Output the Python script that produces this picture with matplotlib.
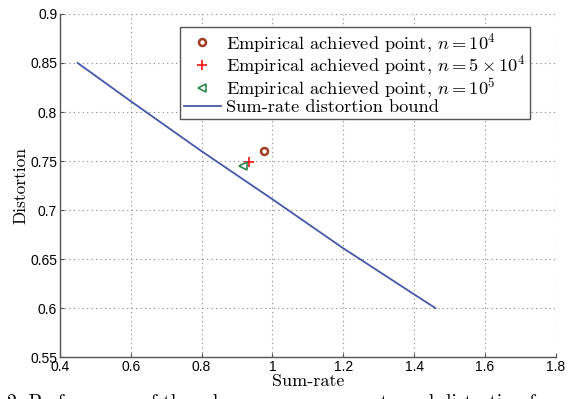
import numpy as np
import matplotlib
matplotlib.use("Agg")
import matplotlib.pyplot as plt

plt.rcParams['mathtext.fontset'] = 'cm'

# bound curve
bound_rate = [0.45, 0.6, 0.8, 1.0, 1.2, 1.4, 1.46]
bound_dist = [0.85, 0.811, 0.760, 0.711, 0.661, 0.614, 0.60]

# empirical points
pt_1e4 = (0.975, 0.760)
pt_5e4 = (0.935, 0.749)
pt_1e5 = (0.918, 0.745)

xticks = [0.4, 0.6, 0.8, 1.0, 1.2, 1.4, 1.6, 1.8]
xticklabels = ["0.4", "0.6", "0.8", "1", "1.2", "1.4", "1.6", "1.8"]
yticks = [0.55, 0.6, 0.65, 0.7, 0.75, 0.8, 0.85, 0.9]
yticklabels = ["0.55", "0.6", "0.65", "0.7", "0.75", "0.8", "0.85", "0.9"]

serif = 'cmr10'
axis_color = '#555555'

fig = plt.figure(figsize=(5.82, 3.99), dpi=100)
ax = fig.add_axes([0.103, 0.105, 0.852, 0.86])

ax.plot(*pt_1e4, linestyle='none', marker='o', markersize=5, markerfacecolor='white',
        markeredgecolor='#a23a22', markeredgewidth=1.8,
        label=r"Empirical achieved point, $n = 10^4$")
ax.plot(*pt_5e4, linestyle='none', marker='+', markersize=7, markeredgecolor='#ff1010',
        markeredgewidth=1.2, label=r"Empirical achieved point, $n = 5 \times 10^4$")
ax.plot(*pt_1e5, linestyle='none', marker='<', markersize=6, markerfacecolor='none',
        markeredgecolor='#2a8a4a', markeredgewidth=1.2,
        label=r"Empirical achieved point, $n = 10^5$")
ax.plot(bound_rate, bound_dist, color='#4458a8', linewidth=1.3,
        label="Sum-rate distortion bound")

ax.set_xlim(0.4, 1.8)
ax.set_ylim(0.55, 0.9)
ax.set_xticks(xticks)
ax.set_xticklabels(xticklabels, fontfamily='Liberation Sans')
ax.set_yticks(yticks)
ax.set_yticklabels(yticklabels, fontfamily='Liberation Sans')
ax.tick_params(direction='in', length=3, labelsize=10, color=axis_color, pad=2)

ax.grid(True, linestyle=(0, (1, 3)), color='#888888', linewidth=0.8)
for side in ['top', 'right']:
    ax.spines[side].set_visible(False)
for side in ['left', 'bottom']:
    ax.spines[side].set_color(axis_color)
    ax.spines[side].set_linewidth(1.0)

ax.set_xlabel("Sum-rate", fontfamily=serif, fontsize=13, labelpad=0)
ax.set_ylabel("Distortion", fontfamily=serif, fontsize=12.5, labelpad=1)

leg = ax.legend(loc='upper right', bbox_to_anchor=(0.948, 0.962), borderaxespad=0,
                prop={'family': serif, 'size': 13.2}, fancybox=False, framealpha=1,
                edgecolor='#555555', handlelength=2.0, handletextpad=0.3,
                labelspacing=-0.05, borderpad=0.22)
leg.get_frame().set_linewidth(1.0)

# caption of the page, cut off at the bottom edge
fig.text(0.012, 0.013, "2: Performance of the scheme versus sum-rate and distortion f",
         fontfamily=serif, fontsize=14, va='top', ha='left')

fig.savefig("out.png", dpi=100)
